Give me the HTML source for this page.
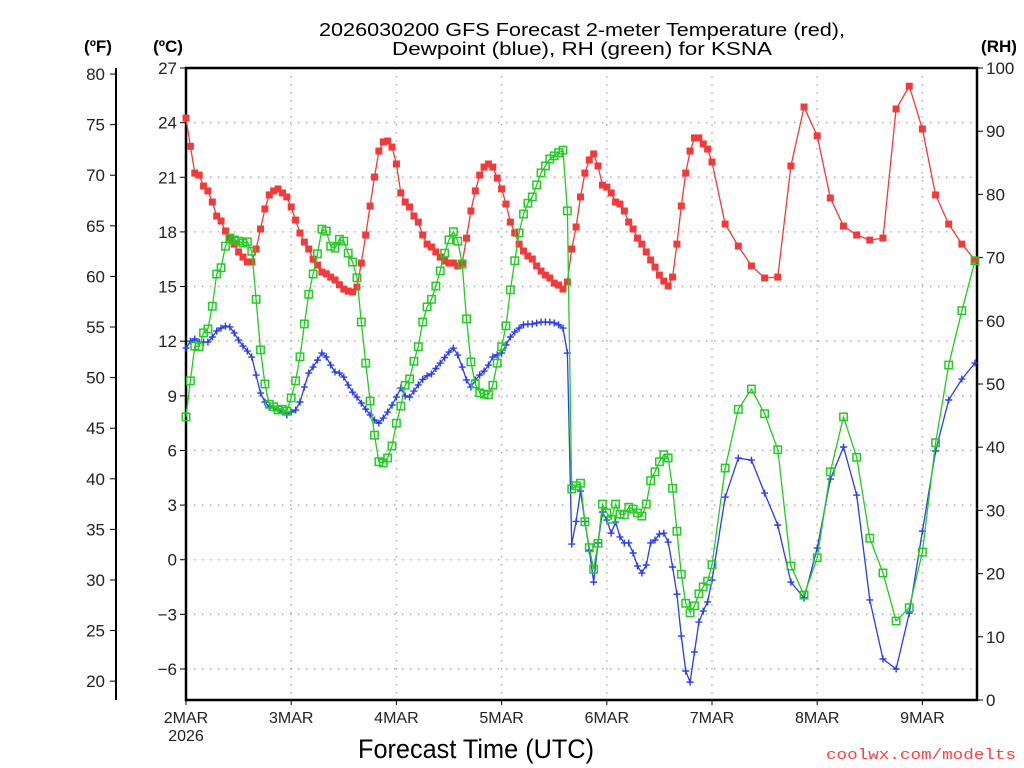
<!DOCTYPE html>
<html><head><meta charset="utf-8">
<style>
html,body{margin:0;padding:0;background:#fff;}
svg{display:block;font-family:"Liberation Sans",sans-serif;}
</style></head>
<body>
<svg id="chart" width="1024" height="768" viewBox="0 0 1024 768" xmlns="http://www.w3.org/2000/svg">
  <g>
    <text x="582" y="36" font-size="18.5" text-anchor="middle" textLength="526" lengthAdjust="spacingAndGlyphs">2026030200 GFS Forecast 2-meter Temperature (red),</text>
    <text x="582" y="55" font-size="18.5" text-anchor="middle" textLength="380" lengthAdjust="spacingAndGlyphs">Dewpoint (blue), RH (green) for KSNA</text>
  </g>
  <text x="98" y="52" font-size="17" font-weight="bold" text-anchor="middle">(ºF)</text>
  <text x="168" y="52" font-size="17" font-weight="bold" text-anchor="middle">(ºC)</text>
  <text x="999" y="52" font-size="17" font-weight="bold" text-anchor="middle">(RH)</text>
  <g id="grid"></g>
  <g id="axes"></g>
  <g id="series"></g>
  <text x="358" y="758" font-size="27" textLength="236" lengthAdjust="spacingAndGlyphs">Forecast Time (UTC)</text>
  <text x="826" y="759" font-size="15" fill="#ff4040" font-family="Liberation Mono, monospace" textLength="190" lengthAdjust="spacingAndGlyphs">coolwx.com/modelts</text>
</svg>
<script>
// hours from 2026-03-02 00Z
const hoursHourly = Array.from({length:121},(_,i)=>i);
const hours3 = [123,126,129,132,135,138,141,144,147,150,153,156,159,162,165,168,171,174,177,180];
const forecastHours = hoursHourly.concat(hours3);

const tempC = [24.25,22.7,21.23,21.12,20.52,20.25,19.64,18.87,18.6,18.05,17.66,17.33,16.9,16.62,16.35,16.35,17.06,18.16,19.26,20.03,20.25,20.36,20.14,19.92,19.37,18.65,17.94,17.44,17.06,16.5,16.18,15.8,15.7,15.52,15.36,15.1,14.86,14.75,14.7,14.97,16.29,17.83,19.42,21.01,22.44,22.94,22.99,22.66,21.73,20.14,19.64,19.37,18.87,18.54,17.83,17.33,17.17,16.9,16.62,16.4,16.29,16.29,16.13,16.29,17.66,19.15,20.25,21.12,21.56,21.73,21.56,20.96,20.36,19.53,18.54,17.94,17.33,16.95,16.68,16.51,16.13,15.85,15.63,15.47,15.19,15.08,14.86,15.25,17.06,18.27,19.92,21.23,21.95,22.28,21.62,20.57,20.46,20.14,19.64,19.53,19.15,18.54,18.16,17.66,17.33,16.9,16.46,16.07,15.63,15.3,15.03,15.52,17.33,19.42,21.23,22.44,23.16,23.16,22.83,22.55,21.84,
18.43,17.22,16.13,15.47,15.52,21.62,24.86,23.27,19.86,18.32,17.83,17.55,17.66,24.75,26.0,23.65,20.03,18.43,17.33,16.46];

const dewpointC = [11.62,12.0,12.12,11.95,11.95,11.95,12.23,12.56,12.72,12.83,12.78,12.45,12.06,11.73,11.46,11.13,10.14,9.15,8.66,8.38,8.33,8.27,8.11,7.95,8.11,8.22,8.66,9.48,10.25,10.58,10.96,11.35,11.13,10.69,10.31,10.25,10.03,9.59,9.2,8.93,8.6,8.27,7.95,7.67,7.5,7.78,8.11,8.49,8.93,9.43,8.99,8.93,9.26,9.6,9.9,10.1,10.2,10.5,10.8,11.1,11.4,11.62,11.24,10.58,9.87,9.48,9.87,10.14,10.36,10.69,11.13,11.25,11.35,11.79,12.23,12.5,12.72,12.9,12.94,12.94,13.0,13.05,13.05,13.05,13.0,12.9,12.72,11.35,0.86,2.1,3.77,2.1,0.53,-1.23,0.92,2.62,2.18,1.46,2.07,1.25,0.92,0.92,0.37,-0.35,-0.73,-0.29,0.92,1.08,1.41,1.46,0.97,-0.4,-1.89,-4.19,-6.11,-6.72,-5.07,-3.42,-2.82,-2.32,-1.12,
3.44,5.58,5.47,3.66,1.9,-1.23,-2.1,0.64,4.43,6.19,3.55,-2.21,-5.45,-6.0,-2.93,1.57,5.97,8.77,9.92,10.8];

const rhPct = [44.8,50.5,56.0,55.9,58.1,58.7,62.3,67.4,68.4,71.8,73.1,72.8,72.6,72.3,72.5,71.0,63.4,55.4,50.0,46.8,46.4,45.9,46.0,45.7,47.8,50.5,54.3,59.5,64.2,67.4,70.6,74.5,74.2,71.8,71.5,72.9,72.6,70.7,69.3,66.8,59.8,53.3,47.3,41.9,37.7,37.5,38.3,40.2,43.8,46.5,49.8,50.8,53.6,55.9,59.8,62.2,63.4,65.5,67.9,70.7,72.8,74.1,72.6,69.0,60.3,53.5,50.0,48.6,48.4,48.3,49.8,53.3,55.9,59.2,64.9,69.5,73.9,76.9,78.6,79.6,81.5,83.4,84.5,85.6,86.1,86.6,87.0,77.4,33.4,33.9,34.3,28.2,24.1,20.7,24.8,31.0,29.6,28.6,31.0,29.4,29.3,30.5,30.2,29.6,29.1,31.0,34.7,36.1,37.7,38.8,38.3,33.5,26.7,19.9,15.3,13.8,14.9,16.8,17.9,18.8,21.4,
36.7,46.0,49.2,45.3,39.6,21.2,16.6,22.5,36.1,44.8,38.4,25.6,20.1,12.5,14.6,23.4,40.7,53.0,61.6,69.5];

const celsiusTicks = [27,24,21,18,15,12,9,6,3,0,-3,-6];
const fahrenheitTicks = [80,75,70,65,60,55,50,45,40,35,30,25,20];
const rhTicks = [100,90,80,70,60,50,40,30,20,10,0];
const dayLabels = ["2MAR","3MAR","4MAR","5MAR","6MAR","7MAR","8MAR","9MAR"];

const NS="http://www.w3.org/2000/svg";
const L=186,R=977,T=68,B=700;
const xH = h => L + h*(105.2/24);
const yC = c => 68 + (27-c)*(601/33);
const yF = f => yC((f-32)*5/9);
const yRH = r => B - r*(B-T)/100;
function mk(tag,attrs,parent){const e=document.createElementNS(NS,tag);for(const k in attrs)e.setAttribute(k,attrs[k]);parent.appendChild(e);return e;}

const grid=document.getElementById('grid'), axes=document.getElementById('axes'), series=document.getElementById('series');

celsiusTicks.forEach(c=>{
  const y=yC(c);
  if(c<27){const g=mk('line',{x1:L,x2:R,y1:y,y2:y,stroke:'#b0b0b0','stroke-width':1.5,'stroke-dasharray':'1.5 6.5'},grid);
  
  }
  const t=mk('line',{x1:L-6,x2:L,y1:y,y2:y,stroke:'#000','stroke-width':1},axes);
  
  
  const tx=mk('text',{x:L-9,y:y+6,'font-size':17,'text-anchor':'end',fill:'#222'},axes);
  tx.textContent = c<0 ? '\u2212'+Math.abs(c) : String(c);
  
  
});
dayLabels.forEach((d,i)=>{
  const x=xH(i*24);
  if(i>0){const g=mk('line',{x1:x,x2:x,y1:T,y2:B,stroke:'#b0b0b0','stroke-width':1.5,'stroke-dasharray':'1.5 6.5'},grid);
  
  }
  const t=mk('line',{x1:x,x2:x,y1:B,y2:B+5,stroke:'#000','stroke-width':1},axes);
  
  
  const tx=mk('text',{x:x,y:723,'font-size':16,'text-anchor':'middle',fill:'#222'},axes);
  tx.textContent=d;
  
  
});
const yr=mk('text',{x:xH(0),y:741,'font-size':16,'text-anchor':'middle',fill:'#222'},axes);
yr.textContent='2026';



fahrenheitTicks.forEach(f=>{
  const y=yF(f);
  const t=mk('line',{x1:110,x2:116,y1:y,y2:y,stroke:'#000','stroke-width':1},axes);
  
  
  const tx=mk('text',{x:105,y:y+6,'font-size':17,'text-anchor':'end',fill:'#222'},axes);
  tx.textContent=String(f);
  
  
});
const fax=mk('line',{x1:116,x2:116,y1:yF(80)-6,y2:B,stroke:'#000','stroke-width':2},axes);



rhTicks.forEach(r=>{
  const y=yRH(r);
  const t=mk('line',{x1:R,x2:R+6,y1:y,y2:y,stroke:'#000','stroke-width':1},axes);
  
  
  const tx=mk('text',{x:986,y:y+6,'font-size':17,'text-anchor':'start',fill:'#222'},axes);
  tx.textContent=String(r);
  
  
});
const frame=mk('rect',{x:L,y:T,width:R-L,height:B-T,fill:'none',stroke:'#000','stroke-width':2.5},axes);



function drawSeries(vals,yFn,color,name,marker){
  const g=mk('g',{},series);
  
  
  const pts=vals.map((v,i)=>[xH(forecastHours[i]),yFn(v)]);
  const pl=mk('polyline',{points:pts.map(p=>p[0].toFixed(1)+','+p[1].toFixed(1)).join(' '),fill:'none',stroke:color,'stroke-width':1.3},g);
  
  
  pts.forEach(p=>{
    let m;
    if(marker==='fill'){m=mk('rect',{x:p[0]-3.5,y:p[1]-3.5,width:7,height:7,fill:color},g);}
    else if(marker==='open'){m=mk('rect',{x:p[0]-3.7,y:p[1]-3.7,width:7.4,height:7.4,fill:'none',stroke:color,'stroke-width':1.5},g);}
    else {m=mk('path',{d:`M${p[0]-3.5},${p[1]}h7M${p[0]},${p[1]-3.5}v7`,stroke:color,'stroke-width':1.4},g);}
    
    
  });
}
drawSeries(tempC,yC,'#f23a3a','temperature','fill');
drawSeries(dewpointC,yC,'#2a3cf0','dewpoint','plus');
drawSeries(rhPct,yRH,'#22cc22','rh','open');
</script>
</body></html>
